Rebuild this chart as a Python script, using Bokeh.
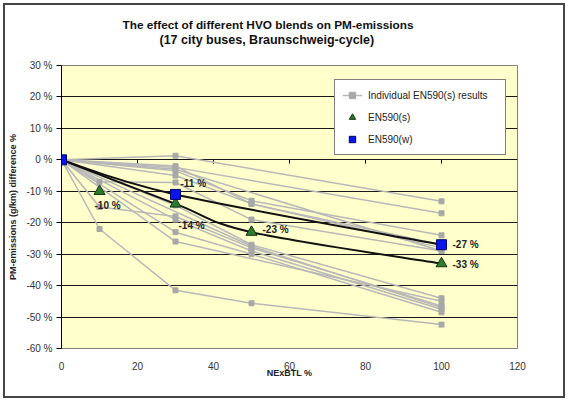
import numpy as np
from bokeh.plotting import figure
from bokeh.models import (ColumnDataSource, FixedTicker, Legend, LegendItem, Title)
from bokeh.core.properties import value
from bokeh.embed import file_html
from bokeh.resources import INLINE

# ---------------- data ----------------
title_line1 = "The effect of different HVO blends on PM-emissions"
title_line2 = "(17 city buses, Braunschweig-cycle)"
x_label = "NExBTL %"
y_label = "PM-emissions (g/km) difference %"

x_ticks = [0, 20, 40, 60, 80, 100, 120]
y_ticks = [-60, -50, -40, -30, -20, -10, 0, 10, 20, 30]

blend_s = [0, 10, 30, 50, 100]
en590_s = [0, -10, -14, -23, -33]
blend_w = [0, 30, 100]
en590_w = [0, -11, -27]

bus_blends = [
    [0, 30, 100],
    [0, 30, 100],
    [0, 30, 50, 100],
    [0, 30, 50, 100],
    [0, 10, 30, 50, 100],
    [0, 30, 50, 100],
    [0, 10, 30, 50, 100],
    [0, 30, 50, 100],
    [0, 30, 50, 100],
    [0, 30, 100],
    [0, 10, 30, 50, 100],
    [0, 30, 100],
    [0, 30, 50, 100],
    [0, 50, 100],
]
bus_values = [
    [0, 1.3, -13.2],
    [0, -2.4, -17],
    [0, -3.5, -13, -24],
    [0, -5, -14, -27],
    [0, -7, -7.2, -19, -29],
    [0, -14.5, -27, -44],
    [0, -15, -18, -28, -46.5],
    [0, -19, -29, -47.5],
    [0, -23, -30, -48.5],
    [0, -26, -45],
    [0, -22, -41.5, -45.6, -52.4],
    [0, -3, -29],
    [0, -2, -14, -28],
    [0, -27.5, -47],
]

FONT = "Liberation Sans"


def smooth(xs, ys):
    """Excel-like smoothed curve: cubic Bezier segments (Catmull-Rom control points)."""
    x = np.asarray(xs, float)
    y = np.asarray(ys, float)
    xp = np.concatenate([[x[0]], x, [x[-1]]])
    yp = np.concatenate([[y[0]], y, [y[-1]]])
    n = len(x)
    d = dict(x0=[], y0=[], x1=[], y1=[], cx0=[], cy0=[], cx1=[], cy1=[])
    for i in range(n - 1):
        a, b, c, e = i, i + 1, i + 2, i + 3
        d["x0"].append(xp[b]); d["y0"].append(yp[b])
        d["x1"].append(xp[c]); d["y1"].append(yp[c])
        d["cx0"].append(xp[b] + (xp[c] - xp[a]) / 6)
        d["cy0"].append(yp[b] + (yp[c] - yp[a]) / 6)
        d["cx1"].append(xp[c] - (xp[e] - xp[b]) / 6)
        d["cy1"].append(yp[c] - (yp[e] - yp[b]) / 6)
    return ColumnDataSource(d)


p = figure(
    frame_width=456, frame_height=283,
    x_range=(0, 120), y_range=(-60, 30),
    output_backend="svg", toolbar_location=None,
    min_border_left=56, min_border_right=46,
    min_border_top=60, min_border_bottom=48,
    background_fill_color="#FFFFCC", border_fill_color="white",
)
p.styles = {"border": "2px solid #454545", "margin": "3px"}
p.outline_line_color = "#808080"
p.outline_line_width = 1

# two-line title (a blank spacer line keeps it clear of the plot area)
p.add_layout(Title(text=" ", text_font=FONT, text_font_size="11.8px", standoff=3), "above")
p.add_layout(Title(text=title_line2, align="left", offset=98, text_font=FONT,
                   text_font_size="12.5px", text_font_style="bold", text_color="#111111",
                   standoff=0), "above")
p.add_layout(Title(text=title_line1, align="left", offset=61, text_font=FONT,
                   text_font_size="11.8px", text_font_style="bold", text_color="#111111",
                   standoff=-2), "above")

# axes
p.xaxis.ticker = FixedTicker(ticks=x_ticks)
p.yaxis.ticker = FixedTicker(ticks=y_ticks)
p.yaxis.major_label_overrides = {v: f"{v} %" for v in y_ticks}
p.xgrid.visible = False
p.ygrid.ticker = FixedTicker(ticks=y_ticks[1:-1])
p.ygrid.grid_line_color = "#1a1a1a"
p.ygrid.grid_line_width = 1

for ax in (p.xaxis, p.yaxis):
    ax.major_label_text_font = FONT
    ax.major_label_text_font_size = "10px"
    ax.major_label_text_color = "#333333"
    ax.axis_label_text_font = FONT
    ax.axis_label_text_font_size = "9px"
    ax.axis_label_text_font_style = "bold"
    ax.axis_label_text_color = "#222222"
    ax.minor_tick_line_color = None

p.xaxis.axis_label = x_label
p.xaxis.axis_line_color = None
p.xaxis.major_tick_line_color = None
p.xaxis.major_tick_out = 0
p.xaxis.major_tick_in = 0
p.xaxis.major_label_standoff = 13
p.xaxis.axis_label_standoff = -5

p.yaxis.axis_label = y_label
p.yaxis.axis_line_color = "black"
p.yaxis.major_tick_line_color = "black"
p.yaxis.major_tick_out = 5
p.yaxis.major_tick_in = 0
p.yaxis.major_label_standoff = 4
p.yaxis.axis_label_standoff = 5

# x-axis ticks on the zero line
p.segment(x0=x_ticks[1:-1], y0=[0] * (len(x_ticks) - 2),
          x1=x_ticks[1:-1], y1=[-1.2] * (len(x_ticks) - 2),
          line_color="black", line_width=1)

# individual results
r_lines = p.multi_line(xs=bus_blends, ys=bus_values, line_color="#B8B8B8", line_width=1.5)
pts_x = [v for row in bus_blends for v in row]
pts_y = [v for row in bus_values for v in row]
r_pts = p.scatter(pts_x, pts_y, marker="square", size=5,
                  fill_color="#A8A8A8", line_color="#A8A8A8")

# smoothed mean curves (EN590(s) curve drawn through the 0/30/50/100 % blends)
curve_idx = [0, 2, 3, 4]
p.bezier(x0="x0", y0="y0", x1="x1", y1="y1", cx0="cx0", cy0="cy0", cx1="cx1", cy1="cy1",
         source=smooth([blend_s[i] for i in curve_idx], [en590_s[i] for i in curve_idx]),
         line_color="#111111", line_width=2)
p.bezier(x0="x0", y0="y0", x1="x1", y1="y1", cx0="cx0", cy0="cy0", cx1="cx1", cy1="cy1",
         source=smooth(blend_w, en590_w), line_color="#111111", line_width=2)

r_tri = p.scatter(blend_s[1:], en590_s[1:], marker="triangle", size=11,
                  fill_color="#2E7A2E", line_color="#123812", line_width=1)
r_sq = p.scatter(blend_w, en590_w, marker="square", size=10,
                 fill_color="#0A14F0", line_color="#000066", line_width=1)

# data labels
lab_x = blend_s[1:] + blend_w[1:]
lab_y = en590_s[1:] + en590_w[1:]
lab_t = [f"{v:.0f} %" for v in lab_y]
lab_dx = [-5, 3, 11, 11, 5, 11]
lab_dy = [14, 22, -3, 1, -11, 0]
p.text(x="x", y="y", text="t", x_offset="dx", y_offset="dy",
       source=ColumnDataSource(dict(x=lab_x, y=lab_y, t=lab_t, dx=lab_dx, dy=lab_dy)),
       text_font=value(FONT), text_font_size=value("10px"), text_font_style="bold",
       text_color="#222222", text_align="left", text_baseline="middle")

legend = Legend(items=[
    LegendItem(label="Individual EN590(s) results", renderers=[r_lines, r_pts]),
    LegendItem(label="EN590(s)", renderers=[r_tri]),
    LegendItem(label="EN590(w)", renderers=[r_sq]),
], location=(273, 193))
legend.label_text_font = FONT
legend.label_text_font_size = "10px"
legend.label_text_color = "#222222"
legend.border_line_color = "black"
legend.border_line_width = 1
legend.background_fill_color = "white"
legend.background_fill_alpha = 1
legend.padding = 7
legend.margin = 0
legend.spacing = 6
legend.glyph_width = 20
legend.glyph_height = 16
legend.label_height = 16
legend.label_width = 130
legend.label_standoff = 6
p.add_layout(legend, "center")

open("out.html", "w").write(file_html(p, INLINE))
